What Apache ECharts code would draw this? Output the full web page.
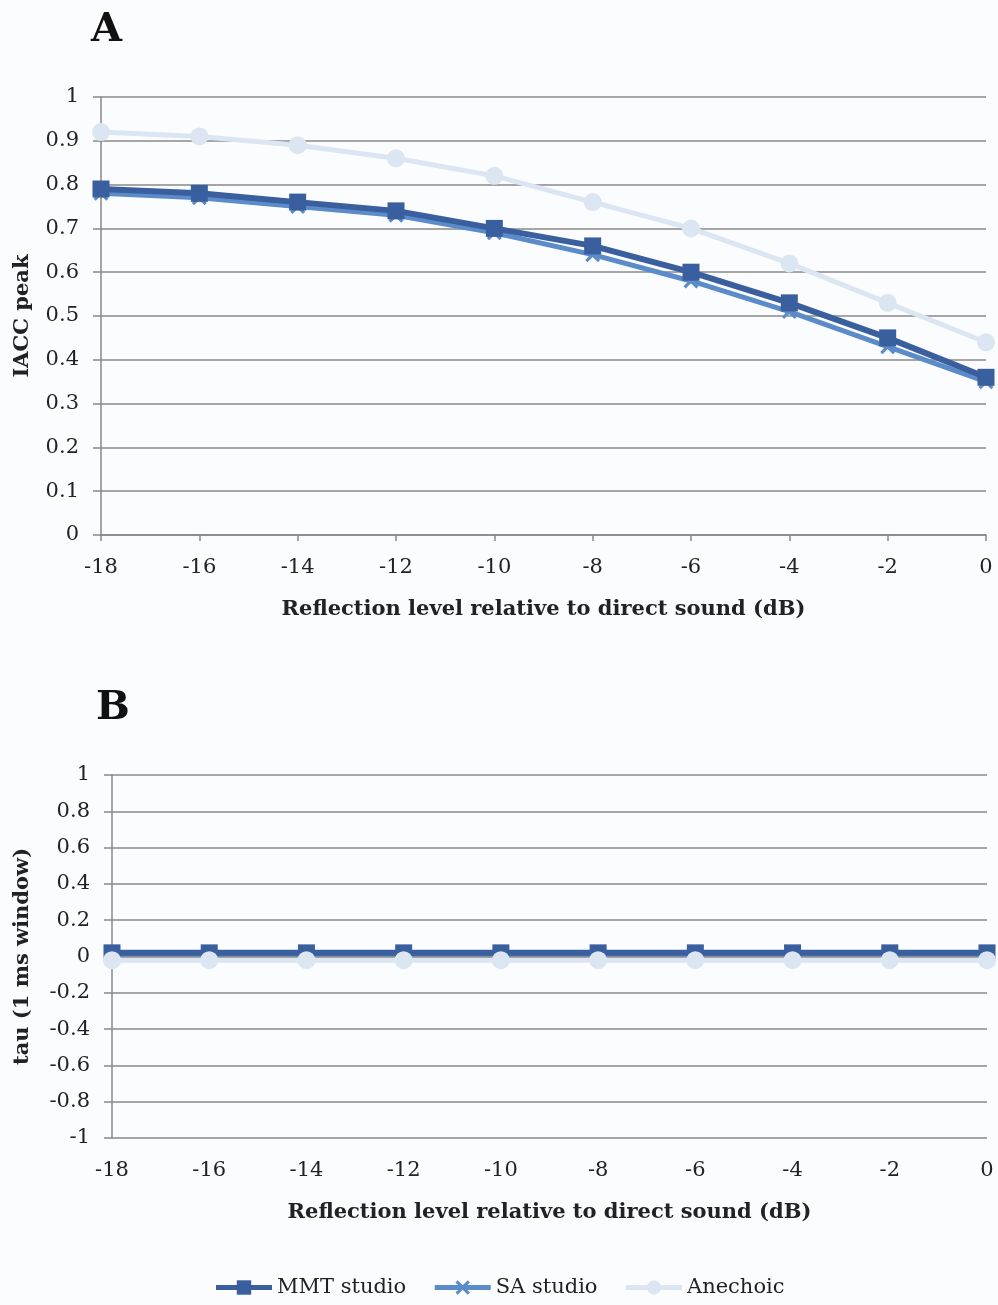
<!DOCTYPE html>
<html><head><meta charset="utf-8">
<script src="https://cdn.jsdelivr.net/npm/echarts@6/dist/echarts.min.js"></script>
<style>html,body{margin:0;padding:0;background:#fbfcfe;}#c{width:998px;height:1305px;}</style>
</head><body><div id="c"></div>
<script>
const categories = ['-18','-16','-14','-12','-10','-8','-6','-4','-2','0'];
const mmtA = [0.79,0.78,0.76,0.74,0.70,0.66,0.60,0.53,0.45,0.36];
const saA  = [0.78,0.77,0.75,0.73,0.69,0.64,0.58,0.51,0.43,0.35];
const anA  = [0.92,0.91,0.89,0.86,0.82,0.76,0.70,0.62,0.53,0.44];
const mmtB = [0.02,0.02,0.02,0.02,0.02,0.02,0.02,0.02,0.02,0.02];
const saB  = [0.015,0.015,0.015,0.015,0.015,0.015,0.015,0.015,0.015,0.015];
const anB  = [-0.02,-0.02,-0.02,-0.02,-0.02,-0.02,-0.02,-0.02,-0.02,-0.02];
const seriesNames = ['MMT studio','SA studio','Anechoic'];
const panelTitles = ['A','B'];
const xTitle = 'Reflection level relative to direct sound (dB)';
const yTitles = ['IACC peak','tau (1 ms window)'];

const FONT = 'DejaVu Serif';
const C_MMT = '#3a5f9e', C_SA = '#5b8bc8', C_AN = '#dce6f3';
const X_PATH = 'path://M0,1.5 L1.5,0 L5,3.5 L8.5,0 L10,1.5 L6.5,5 L10,8.5 L8.5,10 L5,6.5 L1.5,10 L0,8.5 L3.5,5 Z';

const chart = echarts.init(document.getElementById('c'), null, {renderer:'canvas'});
function xAxis(gi, nameGap){
  return {type:'category', gridIndex:gi, data:categories, boundaryGap:false,
    axisLine:{lineStyle:{color:'#888',width:1.5}},
    axisTick:{show:true,alignWithLabel:true,length:6,lineStyle:{color:'#888',width:1.5}},
    axisLabel:{color:'#222',fontFamily:FONT,fontSize:21,margin:22},
    name:xTitle, nameLocation:'middle', nameGap:nameGap,
    nameTextStyle:{color:'#222',fontFamily:FONT,fontSize:21,fontWeight:'bold'}};
}
function yAxis(gi, min, max, interval, name, nameGap, fmt){
  return {type:'value', gridIndex:gi, min:min, max:max, interval:interval,
    axisLine:{show:true,lineStyle:{color:'#888',width:1.5}},
    axisTick:{show:true,length:8,lineStyle:{color:'#888',width:1.5}},
    splitLine:{show:true,lineStyle:{color:'#8a8a8a',width:1.5}},
    axisLabel:{color:'#222',fontFamily:FONT,fontSize:21,margin:22,formatter:fmt},
    name:name, nameLocation:'middle', nameGap:nameGap, nameRotate:90,
    nameTextStyle:{color:'#222',fontFamily:FONT,fontSize:21,fontWeight:'bold'}};
}
function ser(name, data, gi, color, symbol, size, width, z){
  return {name:name, type:'line', xAxisIndex:gi, yAxisIndex:gi, data:data,
    symbol:symbol, symbolSize:size, showSymbol:true,
    lineStyle:{color:color,width:width}, itemStyle:{color:color}, z:z, animation:false};
}
const fmt = v => String(Math.round(v*10)/10);
chart.setOption({
  backgroundColor:'#fbfcfe',
  animation:false,
  title:[
    {text:panelTitles[0], left:86, top:6, textStyle:{fontFamily:FONT,fontSize:40,fontWeight:'bold',color:'#111'}},
    {text:panelTitles[1], left:91, top:684, textStyle:{fontFamily:FONT,fontSize:40,fontWeight:'bold',color:'#111'}}
  ],
  grid:[
    {left:101, right:12, top:97, height:438, containLabel:false, outerBoundsMode:'none'},
    {left:112, right:11, top:775, height:363, containLabel:false, outerBoundsMode:'none'}
  ],
  xAxis:[xAxis(0,64), xAxis(1,64)],
  yAxis:[yAxis(0,0,1,0.1,yTitles[0],68,fmt), yAxis(1,-1,1,0.2,yTitles[1],79,fmt)],
  legend:{bottom:2, left:'center', itemWidth:56, itemHeight:18, itemGap:26,
    textStyle:{fontFamily:FONT,fontSize:21,color:'#222'},
    lineStyle:{width:5},
    data:seriesNames},
  series:[
    ser(seriesNames[2], anA, 0, C_AN, 'circle', 18, 5, 1),
    ser(seriesNames[1], saA, 0, C_SA, X_PATH, 15, 5, 2),
    ser(seriesNames[0], mmtA, 0, C_MMT, 'rect', 17, 6, 3),
    ser(seriesNames[0], mmtB, 1, C_MMT, 'rect', 17, 6, 3),
    ser(seriesNames[1], saB, 1, C_SA, X_PATH, 15, 5, 2),
    ser(seriesNames[2], anB, 1, C_AN, 'circle', 18, 5, 4)
  ]
});
</script></body></html>
